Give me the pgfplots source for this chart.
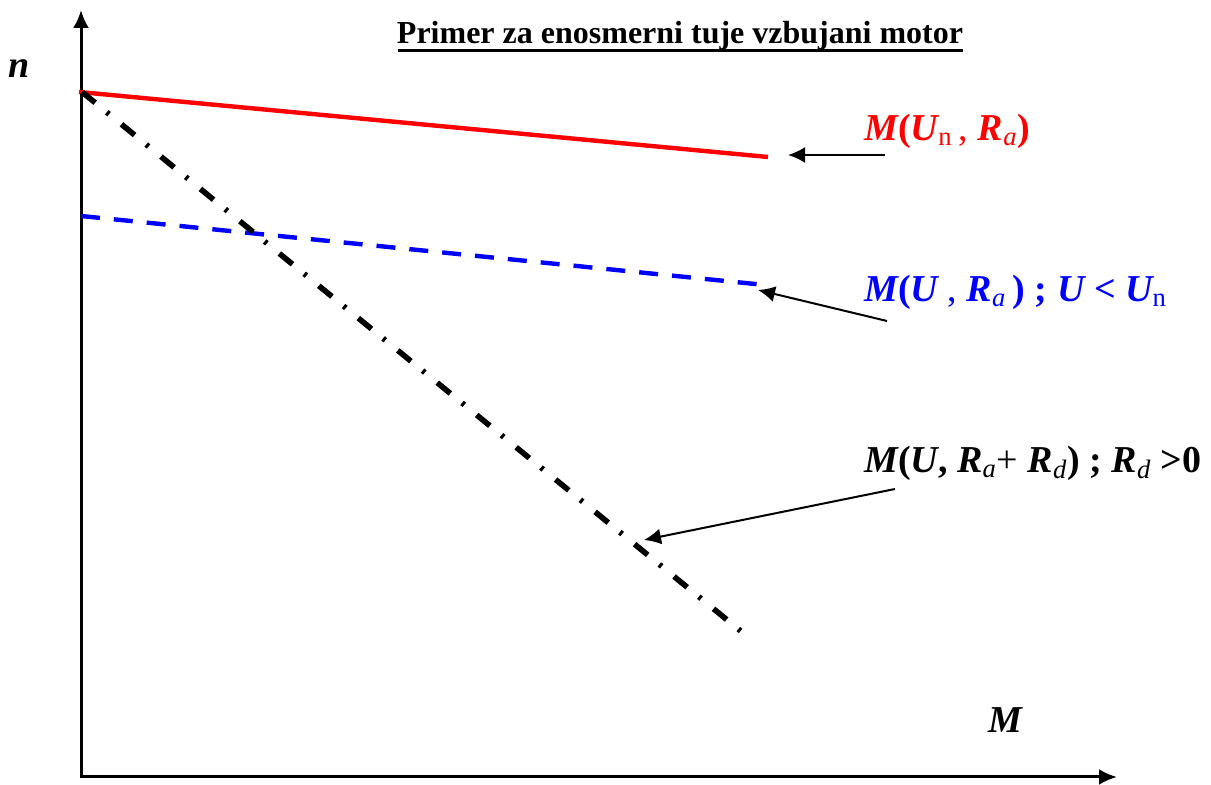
\documentclass[border=0pt]{standalone}
\usepackage{fontspec}
\setmainfont{Liberation Serif}
\usepackage{pgfplots}
\pgfplotsset{compat=1.18}
\usetikzlibrary{arrows.meta}
\newcommand{\bi}[1]{{\bfseries\itshape #1}}
\newcommand{\bu}[1]{{\bfseries #1}}
\begin{document}
\begin{tikzpicture}
\begin{axis}[
  scale only axis, width=605.5pt, height=390pt,
  xmin=0, xmax=1211, ymin=0, ymax=780, y dir=reverse,
  hide axis, clip=false]
\path (axis cs:0,0) rectangle (axis cs:1211,780);
% axes
\draw[line width=1.5pt, -{Latex[length=9pt,width=8pt]}] (axis cs:81,778) -- (axis cs:81,10);
\draw[line width=1.5pt, -{Latex[length=9pt,width=8pt]}] (axis cs:80,777) -- (axis cs:1117,777);
% curves
\addplot[red, line width=2.2pt] coordinates {(79,92) (768,157)};
\addplot[blue, line width=2.2pt, dash pattern=on 9.5pt off 7pt] coordinates {(81,216) (765,285)};
\addplot[black, line width=2.8pt, dash pattern=on 8.5pt off 7.5pt on 1.5pt off 8pt] coordinates {(82,92) (748,637)};
% annotation arrows
\draw[line width=1pt, -{Latex[length=8.5pt,width=8pt]}] (axis cs:885,155) -- (axis cs:788,155);
\draw[line width=1pt, -{Latex[length=8.5pt,width=8pt]}] (axis cs:887,321) -- (axis cs:758,290);
\draw[line width=1pt, -{Latex[length=8.5pt,width=8pt]}] (axis cs:895,489) -- (axis cs:644,540);
% texts
\node[font=\fontsize{16}{19}\selectfont\bfseries] at (axis cs:680,36) {Primer za enosmerni tuje vzbujani motor};
\draw[line width=1.5pt] (axis cs:398,51) -- (axis cs:963,51);
\node[font=\fontsize{19}{22}\selectfont] at (axis cs:19,69) {\bi{n}};
\node[font=\fontsize{19}{22}\selectfont] at (axis cs:1005,720) {\bi{M}};
\node[anchor=west, text=red, font=\fontsize{19}{22}\selectfont, inner sep=0pt] at (axis cs:864,131) {\bi{M}\bu{(}\bi{U}\textsubscript{n}\,, \bi{R}\textsubscript{\itshape a}\bu{)}};
\node[anchor=west, text=blue, font=\fontsize{19}{22}\selectfont, inner sep=0pt] at (axis cs:864,292) {\bi{M}\bu{(}\bi{U} , \bi{R}\textsubscript{\itshape a}\bu{\,) ; }\bi{U}\bu{ < }\bi{U}\textsubscript{n}};
\node[anchor=west, text=black, font=\fontsize{19}{22}\selectfont, inner sep=0pt] at (axis cs:864,463) {\bi{M}\bu{(}\bi{U}\bu{, }\bi{R}\textsubscript{\itshape a}+ \bi{R}\textsubscript{\itshape d}\bu{) ; }\bi{R}\textsubscript{\itshape d}\bu{ >0}};
\end{axis}
\end{tikzpicture}
\end{document}
